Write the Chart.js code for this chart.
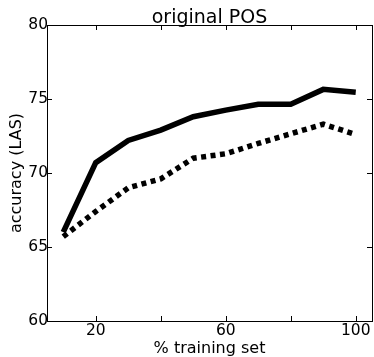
<!DOCTYPE html>
<html>
<head>
<meta charset="utf-8">
<script src="https://cdn.jsdelivr.net/npm/chart.js@4"></script>
<style>
  html, body { margin: 0; padding: 0; background: #fff; }
  canvas { display: block; }
</style>
</head>
<body>
<canvas id="chart" width="374" height="357"></canvas>
<script>
// training set sizes (%)
const trainSizes = [10, 20, 30, 40, 50, 60, 70, 80, 90, 100];
// accuracy (LAS), solid line
const solidLAS = [66.0, 70.7, 72.2, 72.9, 73.8, 74.25, 74.65, 74.65, 75.65, 75.45];
// accuracy (LAS), dotted line
const dottedLAS = [65.7, 67.4, 69.0, 69.6, 71.0, 71.3, 72.0, 72.65, 73.3, 72.6];

const xTicks = [20, 40, 60, 80, 100];
const xTickLabels = ['20', '', '60', '', '100'];
const yTicks = [60, 65, 70, 75, 80];
const chartTitle = 'original POS';

const FONT = 'DejaVu Sans';

// matplotlib-ish frame: box around the axes, ticks pointing inwards,
// title centred over the plot area (not the whole canvas)
const framePlugin = {
  id: 'frame',
  afterDraw(chart) {
    const { ctx, chartArea: a, scales } = chart;
    const len = 5;
    ctx.save();
    ctx.strokeStyle = '#000';
    ctx.lineWidth = 1;
    ctx.strokeRect(a.left + 0.5, a.top + 0.5, a.right - a.left, a.bottom - a.top);
    ctx.beginPath();
    xTicks.forEach(v => {
      const x = Math.round(scales.x.getPixelForValue(v)) + 0.5;
      ctx.moveTo(x, a.bottom); ctx.lineTo(x, a.bottom - len);
      ctx.moveTo(x, a.top); ctx.lineTo(x, a.top + len);
    });
    yTicks.forEach(v => {
      const y = Math.round(scales.y.getPixelForValue(v)) + 0.5;
      ctx.moveTo(a.left, y); ctx.lineTo(a.left + len, y);
      ctx.moveTo(a.right, y); ctx.lineTo(a.right - len, y);
    });
    ctx.stroke();

    ctx.fillStyle = '#000';
    ctx.font = '19px "' + FONT + '"';
    ctx.textAlign = 'center';
    ctx.textBaseline = 'alphabetic';
    ctx.fillText(chartTitle, (a.left + a.right) / 2, 23);
    ctx.restore();
  }
};

const toPoints = ys => trainSizes.map((x, i) => ({ x: x, y: ys[i] }));

new Chart(document.getElementById('chart'), {
  type: 'line',
  data: {
    datasets: [
      {
        data: toPoints(solidLAS),
        borderColor: '#000',
        borderWidth: 5.5,
        pointRadius: 0,
        tension: 0,
      },
      {
        data: toPoints(dottedLAS),
        borderColor: '#000',
        borderWidth: 5.5,
        borderDash: [5, 4.5],
        pointRadius: 0,
        tension: 0,
      }
    ]
  },
  options: {
    responsive: false,
    animation: false,
    layout: { padding: { left: 0, right: 2, top: 25, bottom: 0 } },
    plugins: {
      legend: { display: false },
      tooltip: { enabled: false },
      title: { display: false }
    },
    scales: {
      x: {
        type: 'linear',
        min: 5,
        max: 105,
        afterBuildTicks: s => { s.ticks = xTicks.map(v => ({ value: v })); },
        afterFit: s => { s.height = 36; },
        grid: { display: false, drawTicks: false },
        border: { display: false },
        ticks: {
          color: '#000',
          padding: 1,
          maxRotation: 0,
          font: { family: FONT, size: 15.5 },
          callback: (v, i) => xTickLabels[i]
        },
        title: {
          display: true,
          text: '% training set',
          color: '#000',
          font: { family: FONT, size: 16, lineHeight: 1 },
          padding: { top: 0, bottom: 0.5 }
        }
      },
      y: {
        min: 60,
        max: 80,
        afterBuildTicks: s => { s.ticks = yTicks.map(v => ({ value: v })); },
        afterFit: s => { s.width = 47; },
        grid: { display: false, drawTicks: false },
        border: { display: false },
        ticks: {
          color: '#000',
          padding: -1,
          font: { family: FONT, size: 15.5 }
        },
        title: {
          display: true,
          text: 'accuracy (LAS)',
          color: '#000',
          font: { family: FONT, size: 16 },
          padding: { top: 7, bottom: 0 }
        }
      }
    }
  },
  plugins: [framePlugin]
});
</script>
</body>
</html>
